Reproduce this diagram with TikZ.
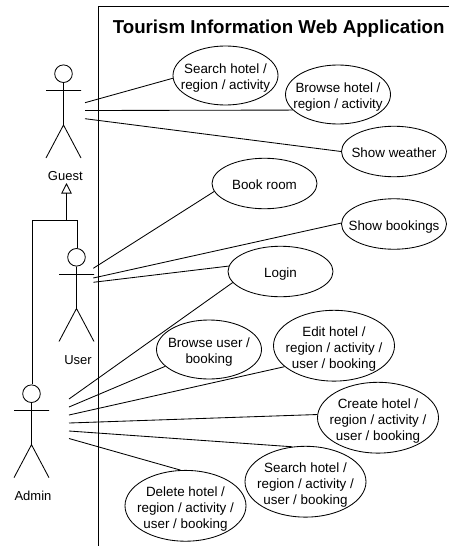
\documentclass[tikz,border=0pt]{standalone}
\usepackage{fontspec}
\setmainfont{Liberation Sans}
\usetikzlibrary{shapes.geometric,arrows.meta}
\newcommand{\uctext}[1]{\makebox[0pt]{\smash{\raisebox{-0.5em}{\begin{tabular}[c]{@{}c@{}}#1\end{tabular}}}}}
\newcommand{\actorfig}[5]{% name, head x, head y, arm y, hip y ; figure drawn from the head
  \node[headnode] (#1head) at (#2,#3) {};
  \coordinate (#1hip) at (#2,#5);
  \coordinate (#1arml) at ({#2-17.5},#4);
  \coordinate (#1armr) at ({#2+17.5},#4);
  \coordinate (#1legl) at ({#2-17.5},{#5+33});
  \coordinate (#1legr) at ({#2+17.5},{#5+33});
  \draw[rel] (#1head.south) -- (#1hip) (#1arml) -- (#1armr) (#1legl) -- (#1hip) -- (#1legr);
}
\tikzset{
  rel/.style={draw=black,line width=0.85pt},
  usecase/.style={ellipse,draw=black,line width=0.85pt,inner sep=0pt,minimum width=105pt,minimum height=50.5pt,font=\fontsize{13.4}{16}\selectfont},
  usecasetwo/.style={usecase,minimum height=59pt},
  usecasethree/.style={usecase,minimum width=121pt,minimum height=70.8pt},
  headnode/.style={circle,draw=black,line width=0.85pt,inner sep=0pt,minimum size=17.6pt},
  actorlabel/.style={inner sep=0pt,font=\fontsize{13}{16}\selectfont},
  gen/.style={rel,-{Triangle[open,length=10.5pt,width=10.5pt,line width=0.85pt]}},
}
\begin{document}
\begin{tikzpicture}[x=1pt,y=-1pt]
\useasboundingbox (0,0) rectangle (449,546);
\coordinate (frameTL) at (98.5,6.5);
\coordinate (frameTR) at (449,6.5);
\coordinate (frameBL) at (98.5,546);
\draw[rel] (frameTR) -- (frameTL) -- (frameBL);
\node[inner sep=0pt,font=\fontsize{18.7}{20}\selectfont\bfseries] (title) at (278.7,29) {Tourism Information Web Application};

\node[usecasetwo] (searchhotel) at (225.5,75.5) {\uctext{Search hotel /\\region / activity}};
\node[usecasetwo] (browsehotel) at (338,94.5) {\uctext{Browse hotel /\\region / activity}};
\node[usecase] (weather) at (394,151.5) {\uctext{Show weather}};
\node[usecase] (book) at (264.5,183.5) {\uctext{Book room}};
\node[usecase] (bookings) at (394,224) {\uctext{Show bookings}};
\node[usecase] (login) at (280.5,271.5) {\uctext{Login}};
\node[usecasetwo] (browseuser) at (209,349.5) {\uctext{Browse user /\\booking}};
\node[usecasethree] (edit) at (334,345.7) {\uctext{Edit hotel /\\region / activity /\\user / booking}};
\node[usecasethree] (create) at (378,417.7) {\uctext{Create hotel /\\region / activity /\\user / booking}};
\node[usecasethree] (searchall) at (305.5,481.7) {\uctext{Search hotel /\\region / activity /\\user / booking}};
\node[usecasethree] (delete) at (185.5,505.8) {\uctext{Delete hotel /\\region / activity /\\user / booking}};

\actorfig{guest}{63.5}{73.7}{90.5}{125}
\actorfig{user}{76.5}{257.3}{274.5}{308.5}
\actorfig{admin}{31.5}{393.7}{410.5}{444.7}
\node[actorlabel] (guestlabel) at (65.3,176.3) {Guest};
\node[actorlabel] (userlabel) at (78,360.3) {User};
\node[actorlabel] (adminlabel) at (33,495.8) {Admin};

\coordinate (ga) at (85,102.7);
\coordinate (gb) at (85,110.5);
\coordinate (gc) at (85,118.7);
\draw[rel] (ga) -- (searchhotel.183.8);
\draw[rel] (gb) -- (browsehotel.199.4);
\draw[rel] (gc) -- (weather.180);

\coordinate (ua) at (93.3,268.3);
\coordinate (ub) at (93.3,278);
\coordinate (uc) at (93.3,282.3);
\draw[rel] (ua) -- (book.189);
\draw[rel] (ub) -- (bookings.179);
\draw[rel] (uc) -- (login.174);

\coordinate (aa) at (69,399);
\coordinate (ab) at (69,407);
\coordinate (ac) at (69,415);
\coordinate (ad) at (69,423);
\coordinate (ae) at (69,431);
\coordinate (af) at (69,438.5);
\draw[rel] (aa) -- (login.193.3);
\draw[rel] (ab) -- (browseuser.201.7);
\draw[rel] (ac) -- (edit.203.5);
\draw[rel] (ad) -- (create.177);
\draw[rel] (ae) -- (searchall.111.3);
\draw[rel] (af) -- (delete.98.8);

\coordinate (genjoin) at (66.5,220.5);
\coordinate (gentip) at (66.5,183);
\coordinate (genleft) at (32.9,220.5);
\coordinate (genright) at (77.9,220.5);
\draw[gen] (genjoin) -- (gentip);
\draw[rel] ([xshift=1.4pt]adminhead.north) -- (genleft) -- (genright) -- ([xshift=1.4pt]userhead.north);
\end{tikzpicture}
\end{document}
